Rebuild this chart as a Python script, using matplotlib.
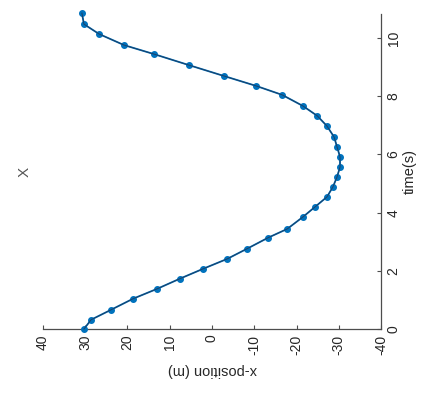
import matplotlib
matplotlib.use("Agg")
import matplotlib.pyplot as plt

# data
time_s = [0.00, 0.32, 0.66, 1.04, 1.38, 1.73, 2.07, 2.41, 2.76, 3.14, 3.44,
          3.85, 4.20, 4.54, 4.88, 5.23, 5.57, 5.92, 6.26, 6.60, 6.98, 7.33,
          7.67, 8.05, 8.36, 8.70, 9.07, 9.45, 9.76, 10.14, 10.48, 10.86]
x_pos = [30.3, 28.6, 23.9, 18.7, 13.0, 7.6, 2.1, -3.6, -8.3, -13.3, -17.8,
         -21.5, -24.4, -27.2, -28.6, -29.6, -30.3, -30.3, -29.6, -28.9, -27.2,
         -24.9, -21.5, -16.6, -10.4, -2.8, 5.4, 13.7, 20.8, 26.7, 30.3, 30.8]
pos_ticks = [40, 30, 20, 10, 0, -10, -20, -30, -40]
time_ticks = [0, 2, 4, 6, 8, 10]

plt.rcParams['font.family'] = ['Liberation Sans', 'DejaVu Sans']

fig = plt.figure(figsize=(4.25, 3.96), dpi=100)
ax = fig.add_axes([43/425, 1-329/396, 338/425, 315/396])

ax.plot(x_pos, time_s, color='#0072BD', lw=1.3, marker='o', ms=4,
        mfc='#0072BD', mec='#0072BD', clip_on=False, zorder=3)
ax.plot(x_pos, time_s, color='#1d3f66', lw=0.7, clip_on=False, zorder=4)

ax.set_xlim(40, -40)
ax.set_ylim(0, 10.83)
ax.set_xticks(pos_ticks)
ax.set_xticklabels([str(v) for v in pos_ticks], rotation=90)
ax.set_yticks(time_ticks)
ax.set_yticklabels([str(v) for v in time_ticks], rotation=90, va='center')

for s in ['left', 'top']:
    ax.spines[s].set_visible(False)
for s in ['right', 'bottom']:
    ax.spines[s].set_color('#4d4d4d')
    ax.spines[s].set_linewidth(0.9)

ax.yaxis.tick_right()
ax.tick_params(axis='both', direction='in', length=3, width=0.8,
               colors='#4d4d4d', labelcolor='#262626', labelsize=10, pad=4)

ax.set_xlabel('x-position (m)', rotation=180, fontsize=10.5, color='#262626',
              va='center', ha='center')
ax.xaxis.set_label_coords(0.5, -(370-329)/315)
ax.yaxis.set_label_position('right')
ax.set_ylabel('time(s)', rotation=90, fontsize=10.5, color='#262626',
              va='center', ha='center')
ax.yaxis.set_label_coords((410-43)/338, 0.5)

ax.text((25-43)/338, 0.5, 'X', transform=ax.transAxes, rotation=90,
        ha='center', va='center', fontsize=11, color='#555555')

fig.savefig('out.png', dpi=100)
